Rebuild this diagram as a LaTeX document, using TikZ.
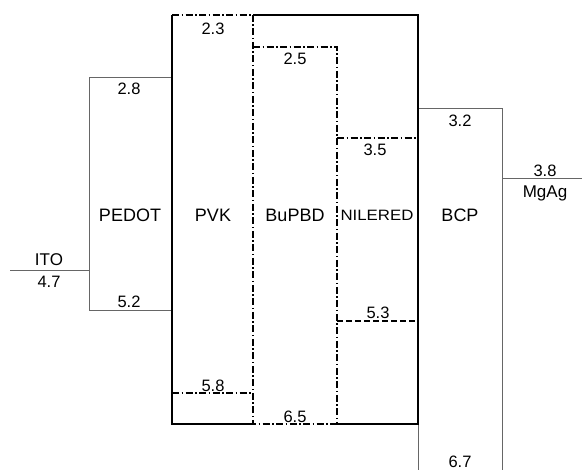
\documentclass[tikz,border=0pt]{standalone}
\usepackage{fontspec}
\setmainfont{Liberation Sans}
\usepackage{graphicx}
\begin{document}
\begin{tikzpicture}[x=1pt, y=-1pt,
  frame/.style={draw=black, line width=1.6pt},
  level/.style={draw=black!60, line width=0.9pt},
  dashdot/.style={draw=black, line width=1.3pt, dash pattern=on 7pt off 2.5pt on 1.5pt off 2.5pt},
  dashline/.style={draw=black, line width=1.3pt, dash pattern=on 6pt off 3pt},
  layer/.style={font=\fontsize{18}{20}\selectfont, inner sep=0pt},
  val/.style={font=\fontsize{16.5}{18}\selectfont, inner sep=0pt},
]
\useasboundingbox (0,0) rectangle (582,470);
% ------------------------------------------------------------------ thin levels
\draw[level] (172,77) -- (89,77) -- (89,310) -- (172,310);
\draw[level] (10,270) -- (89,270);
\draw[level] (418,108) -- (502,108) -- (502,490);
\draw[level] (418,108) -- (418,490);
\draw[level] (502,178) -- (582,178);

% ------------------------------------------------------------------ emitting stack
\draw[frame] (253,15) -- (418,15) -- (418,424) -- (337,424);
\draw[frame] (253,424) -- (172,424) -- (172,15);
\draw[dashdot] (172,15) -- (253,15) -- (253,424) -- (337,424);
\draw[dashdot] (253,47) -- (337,47) -- (337,424);
\draw[dashdot] (337,138) -- (418,138);
\draw[dashdot] (172,393) -- (253,393);
\draw[dashline] (337,321) -- (418,321);

% ------------------------------------------------------------------ layer names
\node[layer] (pedot) at (130,215) {PEDOT};
\node[layer] (pvk) at (213,215) {PVK};
\node[layer] (bupbd) at (295,215) {BuPBD};
\node[layer] (nilered) at (377,215) {\scalebox{1.12}[1]{\fontsize{15}{17}\selectfont NILERED}};
\node[layer] (bcp) at (460,215) {BCP};
\node[layer, font=\fontsize{17}{19}\selectfont] (ito) at (49,260) {ITO};
\node[layer, font=\fontsize{17}{19}\selectfont] (mgag) at (545,193) {MgAg};

% ------------------------------------------------------------------ energies
\node[val] (ito47) at (49,282) {4.7};
\node[val] (pedot28) at (129,89) {2.8};
\node[val] (pedot52) at (129,302) {5.2};
\node[val] (pvk23) at (213,29) {2.3};
\node[val] (pvk58) at (213,386) {5.8};
\node[val] (bupbd25) at (295,59) {2.5};
\node[val] (bupbd65) at (295,417) {6.5};
\node[val] (nile35) at (375,150) {3.5};
\node[val] (nile53) at (378,313) {5.3};
\node[val] (bcp32) at (460,121) {3.2};
\node[val] (bcp67) at (460,462) {6.7};
\node[val] (mgag38) at (545,171) {3.8};
\end{tikzpicture}
\end{document}
